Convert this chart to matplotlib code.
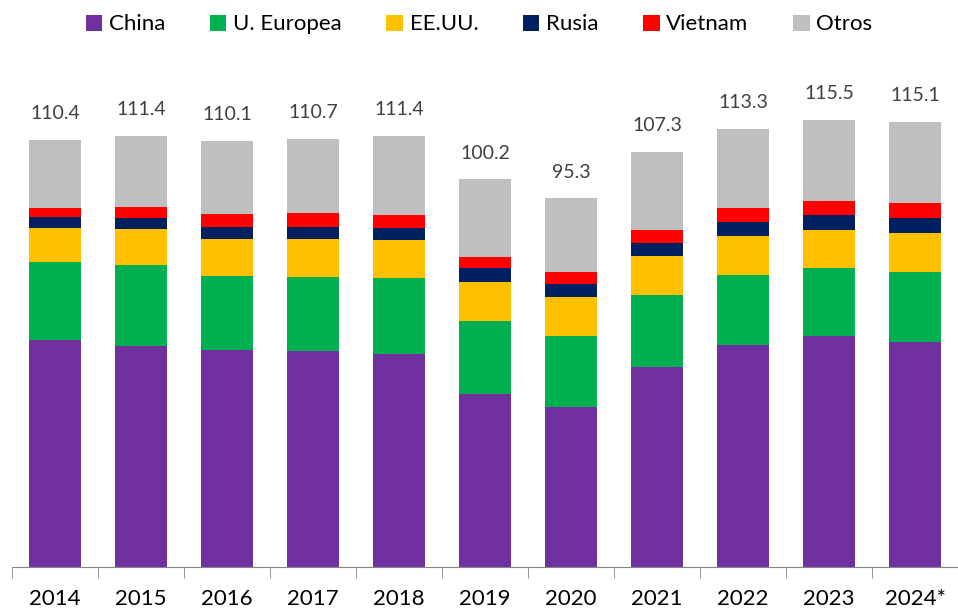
import matplotlib.pyplot as plt
import numpy as np
from matplotlib.patches import Patch

plt.rcParams['font.family'] = ['Lato', 'DejaVu Sans']

years = ['2014', '2015', '2016', '2017', '2018', '2019', '2020', '2021', '2022', '2023', '2024*']
totals = [110.4, 111.4, 110.1, 110.7, 111.4, 100.2, 95.3, 107.3, 113.3, 115.5, 115.1]

china = [58.6, 57.1, 56.0, 55.8, 55.2, 44.8, 41.4, 51.6, 57.3, 59.6, 58.1]
ue = [20.3, 21.1, 19.3, 19.3, 19.5, 18.9, 18.3, 18.8, 18.3, 17.7, 18.1]
eeuu = [8.7, 9.3, 9.6, 9.6, 9.8, 10.1, 10.1, 9.9, 10.0, 9.9, 10.1]
rusia = [2.9, 2.8, 3.1, 3.3, 3.1, 3.4, 3.4, 3.5, 3.7, 3.8, 3.9]
vietnam = [2.4, 2.9, 3.2, 3.4, 3.5, 3.0, 3.0, 3.3, 3.5, 3.7, 3.8]
otros = [17.5, 18.2, 18.9, 19.3, 20.3, 20.0, 19.1, 20.2, 20.5, 20.8, 21.1]

series = [
    ('China', china, '#7030a0'),
    ('U. Europea', ue, '#00b050'),
    ('EE.UU.', eeuu, '#ffc000'),
    ('Rusia', rusia, '#002060'),
    ('Vietnam', vietnam, '#ff0000'),
    ('Otros', otros, '#bfbfbf'),
]

fig = plt.figure(figsize=(9.58, 6.11), dpi=100)
ax = fig.add_axes([12 / 958, 1 - 567 / 611, 946 / 958, (567 - 64.2) / 611])

x = np.arange(len(years))
bottom = np.zeros(len(years))
for name, vals, color in series:
    ax.bar(x, vals, width=0.6, bottom=bottom, color=color, edgecolor='none')
    bottom += np.array(vals)

for xi, t in zip(x, totals):
    ax.text(xi, t + 4.6, f'{t:.1f}', ha='center', va='bottom', fontsize=14, color='#404040')

ax.set_xlim(-0.5, len(years) - 0.5)
ax.set_ylim(0, 130)
ax.set_yticks([])
for s in ['left', 'right', 'top']:
    ax.spines[s].set_visible(False)
ax.spines['bottom'].set_color('#868686')
ax.set_xticks(x)
ax.set_xticklabels(years, fontsize=16)
ax.tick_params(axis='x', which='major', length=0, pad=16)
ax.set_xticks(np.arange(-0.5, len(years)), minor=True)
ax.tick_params(axis='x', which='minor', length=8, color='#868686')

handles = [Patch(facecolor=c, edgecolor='none', label=n) for n, _, c in series]
fig.legend(handles=handles, loc='upper center', ncol=6, frameon=False, fontsize=16,
           bbox_to_anchor=(0.5, 1.0), handlelength=0.75, handleheight=0.75,
           handletextpad=0.3, columnspacing=2.0, borderaxespad=0.25)

fig.savefig('out.png', dpi=100)
